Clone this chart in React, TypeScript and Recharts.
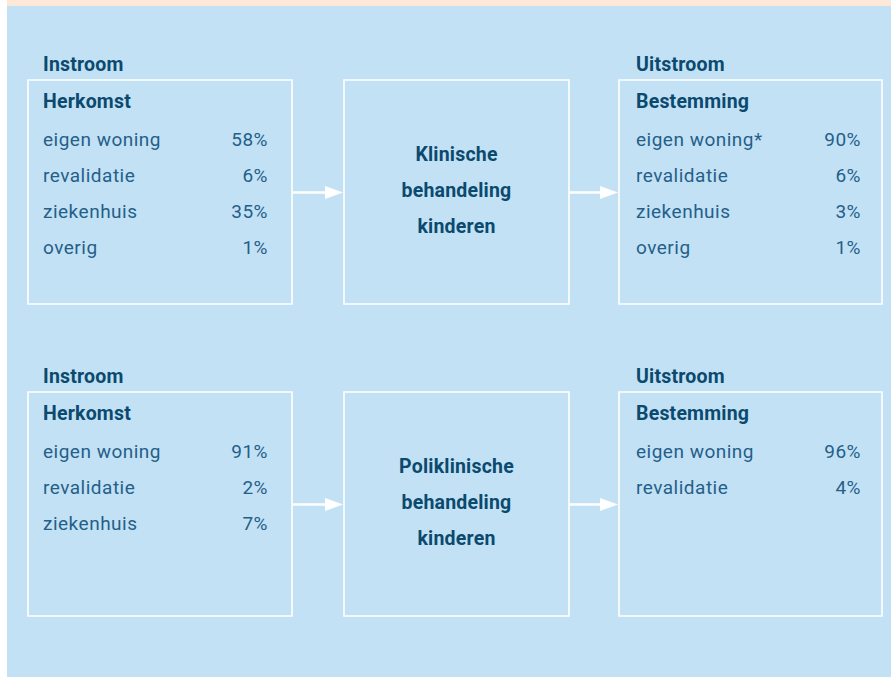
import {
  ComposedChart,
  ReferenceArea,
  ReferenceLine,
  Scatter,
  XAxis,
  YAxis,
} from 'recharts';

// data
const headerIn = 'Instroom';
const headerOut = 'Uitstroom';
const subIn = 'Herkomst';
const subOut = 'Bestemming';

const klinHerkomstLabels = ['eigen woning', 'revalidatie', 'ziekenhuis', 'overig'];
const klinHerkomstValues = [58, 6, 35, 1];
const klinBestemmingLabels = ['eigen woning*', 'revalidatie', 'ziekenhuis', 'overig'];
const klinBestemmingValues = [90, 6, 3, 1];

const poliHerkomstLabels = ['eigen woning', 'revalidatie', 'ziekenhuis'];
const poliHerkomstValues = [91, 2, 7];
const poliBestemmingLabels = ['eigen woning', 'revalidatie'];
const poliBestemmingValues = [96, 4];

const klinTitle = ['Klinische', 'behandeling', 'kinderen'];
const poliTitle = ['Poliklinische', 'behandeling', 'kinderen'];

// layout (chart units == px, axes hidden)
const W = 891;
const H = 677;
const PANEL_GAP = 312;
const ROW_H = 36;
const BOX_TOP = 80;
const BOX_BOTTOM = 304;
const LEFT_BOX = [28, 292];
const MID_BOX = [344, 569];
const RIGHT_BOX = [619, 882];
const ARROW_Y = 192.5;

const FONT = 'Roboto, "Liberation Sans", sans-serif';
const BOLD_COLOR = '#0b4a6f';
const TEXT_COLOR = '#245f8a';
const BG_BLUE = '#c3e1f4';
const BG_PEACH = '#fde8d7';

type TextPoint = {
  x: number;
  y: number;
  text: string;
  anchor: 'start' | 'middle' | 'end';
  bold: boolean;
};

const panels = [
  {
    inLabels: klinHerkomstLabels,
    inValues: klinHerkomstValues,
    outLabels: klinBestemmingLabels,
    outValues: klinBestemmingValues,
    title: klinTitle,
  },
  {
    inLabels: poliHerkomstLabels,
    inValues: poliHerkomstValues,
    outLabels: poliBestemmingLabels,
    outValues: poliBestemmingValues,
    title: poliTitle,
  },
];

const textPoints: TextPoint[] = [];
panels.forEach((p, i) => {
  const off = i * PANEL_GAP;
  textPoints.push({ x: 43, y: 71 + off, text: headerIn, anchor: 'start', bold: true });
  textPoints.push({ x: 636, y: 71 + off, text: headerOut, anchor: 'start', bold: true });
  textPoints.push({ x: 43, y: 108 + off, text: subIn, anchor: 'start', bold: true });
  textPoints.push({ x: 636, y: 108 + off, text: subOut, anchor: 'start', bold: true });
  p.inLabels.forEach((l, j) => {
    textPoints.push({ x: 43, y: 146 + off + j * ROW_H, text: l, anchor: 'start', bold: false });
    textPoints.push({ x: 268, y: 146 + off + j * ROW_H, text: `${p.inValues[j]}%`, anchor: 'end', bold: false });
  });
  p.outLabels.forEach((l, j) => {
    textPoints.push({ x: 636, y: 146 + off + j * ROW_H, text: l, anchor: 'start', bold: false });
    textPoints.push({ x: 861, y: 146 + off + j * ROW_H, text: `${p.outValues[j]}%`, anchor: 'end', bold: false });
  });
  p.title.forEach((t, j) => {
    textPoints.push({ x: (MID_BOX[0] + MID_BOX[1]) / 2, y: 161 + off + j * ROW_H, text: t, anchor: 'middle', bold: true });
  });
});

const TextMark = (props: any) => {
  const { cx, cy, payload } = props;
  const p = payload as TextPoint;
  return (
    <text
      x={cx}
      y={cy}
      textAnchor={p.anchor}
      fontFamily={FONT}
      fontSize={p.bold ? 19.5 : 19}
      fontWeight={p.bold ? 700 : 400}
      letterSpacing={p.bold ? 0.2 : 0.5}
      fill={p.bold ? BOLD_COLOR : TEXT_COLOR}
    >
      {p.text}
    </text>
  );
};

const Arrow = (props: any) => {
  const { x1, y1, x2, y2 } = props;
  const head = 18;
  return (
    <g>
      <line x1={x1} y1={y1} x2={x2 - head + 1} y2={y2} stroke="#fff" strokeWidth={2.5} />
      <polygon
        points={`${x2 - head},${y2 - 6.5} ${x2},${y2} ${x2 - head},${y2 + 6.5}`}
        fill="#fff"
      />
    </g>
  );
};

export default function App() {
  return (
    <div style={{ position: 'absolute', left: 0, top: 0, width: W, height: H, background: '#fff' }}>
      <ComposedChart width={W} height={H} margin={{ top: 0, right: 0, bottom: 0, left: 0 }}>
        <XAxis type="number" dataKey="x" domain={[0, W]} hide allowDataOverflow />
        <YAxis type="number" dataKey="y" domain={[0, H]} reversed hide allowDataOverflow />
        <ReferenceArea x1={7} x2={W} y1={0} y2={6} fill={BG_PEACH} fillOpacity={1} stroke="none" />
        <ReferenceArea x1={7} x2={W} y1={6} y2={H} fill={BG_BLUE} fillOpacity={1} stroke="none" />
        {panels.map((_, i) =>
          [LEFT_BOX, MID_BOX, RIGHT_BOX].map((b, k) => (
            <ReferenceArea
              key={`box-${i}-${k}`}
              x1={b[0]}
              x2={b[1]}
              y1={BOX_TOP + i * PANEL_GAP}
              y2={BOX_BOTTOM + i * PANEL_GAP}
              fill="none"
              stroke="#ffffff"
              strokeWidth={1.6}
            />
          ))
        )}
        {panels.map((_, i) =>
          [
            [LEFT_BOX[1], MID_BOX[0] - 1],
            [MID_BOX[1], RIGHT_BOX[0] - 1],
          ].map((seg, k) => (
            <ReferenceLine
              key={`arrow-${i}-${k}`}
              segment={[
                { x: seg[0], y: ARROW_Y + i * PANEL_GAP },
                { x: seg[1], y: ARROW_Y + i * PANEL_GAP },
              ]}
              shape={<Arrow />}
            />
          ))
        )}
        <Scatter data={textPoints} dataKey="y" shape={<TextMark />} isAnimationActive={false} />
      </ComposedChart>
    </div>
  );
}
